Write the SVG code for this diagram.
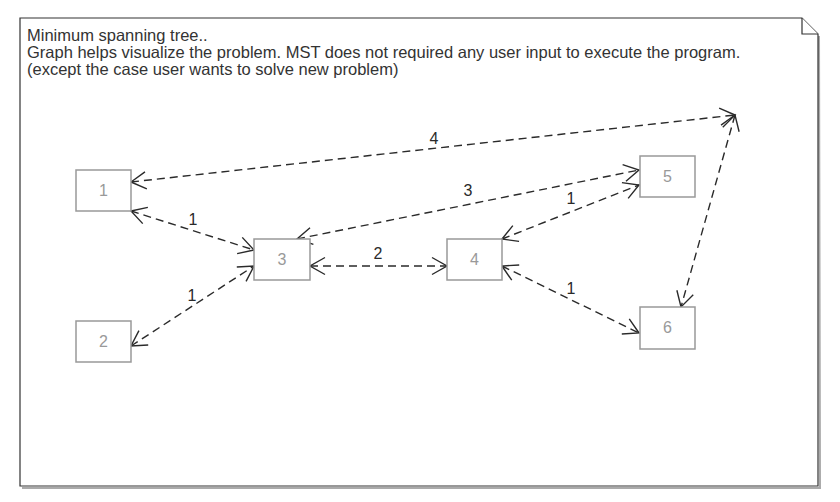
<svg xmlns="http://www.w3.org/2000/svg" width="840" height="502" viewBox="0 0 840 502">
<style>
.note{fill:#fff;stroke:#333;stroke-width:1.2}
.shadow{fill:none;stroke:#aaa;stroke-width:2}
.ntext{font-family:"Liberation Sans",Arial,sans-serif;font-size:16.5px;fill:#333}
.box{fill:#fff;stroke:#999;stroke-width:1.5}
.blabel{font-family:"Liberation Sans",Arial,sans-serif;font-size:16px;fill:#999;text-anchor:middle}
.edge{fill:none;stroke:#2a2a2a;stroke-width:1.4;stroke-dasharray:8 5;marker-start:url(#arr);marker-end:url(#arr)}
.elabel{font-family:"Liberation Sans",Arial,sans-serif;font-size:16px;fill:#2a2a2a;text-anchor:middle}
.ah{fill:none;stroke:#2a2a2a;stroke-width:1.4;stroke-dasharray:none}
</style>
<defs>
<marker id="arr" markerUnits="userSpaceOnUse" markerWidth="40" markerHeight="40" viewBox="-20 -20 40 40" refX="0" refY="0" orient="auto-start-reverse" overflow="visible">
<path class="ah" d="M-15,-8.5 L0,0 L-15,8.5"/>
</marker>
</defs>
<g id="note">
<polyline class="shadow" points="819,36 820,488 22,488"/>
<path class="note" d="M20,18 H802 L818,34 V486 H20 Z"/>
<path class="note" d="M802,18 V34 H818" fill="none"/>
<text class="ntext" x="27" y="41">Minimum spanning tree..</text>
<text class="ntext" x="27" y="58">Graph helps visualize the problem. MST does not required any user input to execute the program.</text>
<text class="ntext" x="27" y="75">(except the case user wants to solve new problem)</text>
</g>
<g id="connectors">
<path class="edge" d="M131,182 L735,115"/>
<path class="edge" d="M735,115 L681,307"/>
<path class="edge" d="M131,211 L254,250"/>
<path class="edge" d="M131,346 L254,266"/>
<path class="edge" d="M297,239 L639,170"/>
<path class="edge" d="M310,266 L447,266"/>
<path class="edge" d="M502,239 L639,185"/>
<path class="edge" d="M502,266 L639,333"/>
<text class="elabel" x="434" y="144">4</text>
<text class="elabel" x="193" y="225">1</text>
<text class="elabel" x="192" y="301">1</text>
<text class="elabel" x="468" y="196">3</text>
<text class="elabel" x="378" y="259">2</text>
<text class="elabel" x="571" y="204">1</text>
<text class="elabel" x="571" y="294">1</text>
</g>
<g id="node1"><rect class="box" x="76" y="170" width="55" height="41"/><text class="blabel" x="103.5" y="196">1</text></g>
<g id="node2"><rect class="box" x="76" y="321" width="55" height="41"/><text class="blabel" x="103.5" y="347">2</text></g>
<g id="node3"><rect class="box" x="254" y="239" width="56" height="41"/><text class="blabel" x="282" y="265">3</text></g>
<g id="node4"><rect class="box" x="447" y="239" width="55" height="41"/><text class="blabel" x="474.5" y="265">4</text></g>
<g id="node5"><rect class="box" x="640" y="156" width="55" height="41"/><text class="blabel" x="667.5" y="182">5</text></g>
<g id="node6"><rect class="box" x="640" y="307" width="55" height="42"/><text class="blabel" x="667.5" y="333">6</text></g>
</svg>
